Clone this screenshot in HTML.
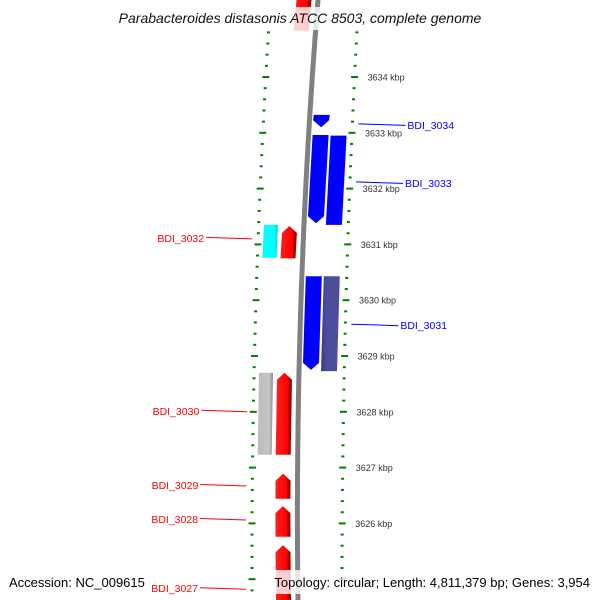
<!DOCTYPE html>
<html><head><meta charset="utf-8"><style>
body{margin:0;background:#fff}
svg{display:block;font-family:"Liberation Sans","DejaVu Sans",sans-serif}
</style></head><body>
<svg id="c" width="600" height="600" viewBox="0 0 600 600">
<defs>
<linearGradient id="gr" x1="0" x2="1"><stop offset="0" stop-color="#ff2020"/><stop offset="0.75" stop-color="#ff0000"/><stop offset="0.8" stop-color="#b00000"/><stop offset="1" stop-color="#990000"/></linearGradient>
<linearGradient id="gb" x1="0" x2="1"><stop offset="0" stop-color="#0000e0"/><stop offset="0.2" stop-color="#0000ff"/><stop offset="1" stop-color="#0000ff"/></linearGradient>
<linearGradient id="gc" x1="0" x2="1"><stop offset="0" stop-color="#00ffff"/><stop offset="0.8" stop-color="#00ffff"/><stop offset="1" stop-color="#00c8c8"/></linearGradient>
<linearGradient id="gg" x1="0" x2="1"><stop offset="0" stop-color="#bdbdbd"/><stop offset="0.75" stop-color="#c4c4c4"/><stop offset="1" stop-color="#8a8a8a"/></linearGradient>
<linearGradient id="gp" x1="0" x2="1"><stop offset="0" stop-color="#3a3a88"/><stop offset="0.3" stop-color="#4d4d9e"/><stop offset="1" stop-color="#4d4d9e"/></linearGradient>
</defs>
</svg>
<script>
const geneNames=["top","BDI_3034","BDI_3033","BDI_3033b","BDI_3032c","BDI_3032","BDI_3031","BDI_3031b","BDI_3030g","BDI_3030","BDI_3029","BDI_3028","BDI_3027"];
const geneStart=[3635.6,3633.32,3632.96,3632.95,3631.35,3631.33,3630.43,3630.43,3628.70,3628.70,3626.89,3626.31,3625.61];
const geneEnd=[3634.84,3633.10,3631.38,3631.35,3630.76,3630.75,3628.75,3628.73,3627.23,3627.23,3626.44,3625.76,3624.40];
const geneLane=[-1,1,1,2,-2,-1,1,2,-2,-1,-1,-1,-1];
const geneStrand=[1,-1,-1,0,0,1,-1,0,0,1,1,1,1];
const geneFill=["url(#gr)","url(#gb)","url(#gb)","url(#gb)","url(#gc)","url(#gr)","url(#gb)","url(#gp)","url(#gg)","url(#gr)","url(#gr)","url(#gr)","url(#gr)"];
const kbpTicks=[3634,3633,3632,3631,3630,3629,3628,3627,3626];
const labelNames=["BDI_3034","BDI_3033","BDI_3031","BDI_3032","BDI_3030","BDI_3029","BDI_3028","BDI_3027"];
const labelKbp=[3633.16,3632.12,3629.57,3631.10,3628.00,3626.67,3626.06,3624.82];
const labelSide=[1,1,1,-1,-1,-1,-1,-1];
const labelColor=["#0000ff","#0000ff","#0000ff","#ff0000","#ff0000","#ff0000","#ff0000","#ff0000"];

const NS="http://www.w3.org/2000/svg";
const svg=document.getElementById('c');
const yK=k=>77+(3634-k)*55.8;
function q(p,y){const[[a,A],[b,B],[c,C]]=p;return A*(y-b)*(y-c)/((a-b)*(a-c))+B*(y-a)*(y-c)/((b-a)*(b-c))+C*(y-a)*(y-b)/((c-a)*(c-b));}
const backX=y=>q([[0,318],[300,301],[600,298]],y);
const rightX=y=>q([[30,357],[300,346],[590,342]],y);
const leftX=y=>q([[40,268],[300,256],[590,252]],y);
function mk(t,a,p){const e=document.createElementNS(NS,t);for(const k in a)e.setAttribute(k,a[k]);(p||svg).appendChild(e);return e;}

let d="";for(let y=-5;y<=605;y+=5)d+=(y<0?"M":"L")+backX(y).toFixed(1)+","+y;
const bb=mk('path',{d:d,stroke:"#808080","stroke-width":5,fill:"none"});



for(let i=-12;i<=60;i++){const k=3634-i*0.2;const y=yK(k);if(y<30||y>596)continue;const major=Math.abs(k-Math.round(k))<0.01;
 for(const f of [leftX,rightX]){const x=f(y);const w=major?7:3;
  const t=mk('rect',{x:x-w/2,y:y-1,width:w,height:2,fill:"#008000"});
  
  }}
kbpTicks.forEach(k=>{const y=yK(k);const t=mk('text',{x:rightX(y)+13,y:y+3.5,"font-size":9,fill:"#333"});t.textContent=k+" kbp";
 
 });

const laneOff={"-2":[-40,-26],"-1":[-22,-7],"1":[4,20],"2":[22,38]};
geneNames.forEach((n,i)=>{const y1=yK(geneStart[i]),y2=yK(geneEnd[i]);const [o1,o2]=laneOff[geneLane[i]];
 const L=y=>backX(y)+o1,R=y=>backX(y)+o2;let pts;const ah=7;
 if(geneStrand[i]===1){pts=[[L(y2),y2],[R(y2),y2],[R(y1),y1+ah],[(L(y1)+R(y1))/2,y1],[L(y1),y1+ah]];}
 else if(geneStrand[i]===-1){pts=[[L(y1),y1],[R(y1),y1],[R(y2),y2-ah],[(L(y2)+R(y2))/2,y2],[L(y2),y2-ah]];}
 else pts=[[L(y1),y1],[R(y1),y1],[R(y2),y2],[L(y2),y2]];
 const g=mk('polygon',{points:pts.map(p=>p[0].toFixed(1)+","+p[1].toFixed(1)).join(" "),fill:geneFill[i]});
 
 });

labelNames.forEach((n,i)=>{const y=yK(labelKbp[i]);const s=labelSide[i];
 const x0=s>0?rightX(y)+6:leftX(y)-6, x1=s>0?x0+47:x0-46;
 const l=mk('line',{x1:x0,y1:y,x2:x1,y2:y+(s>0?1.5:-1.5),stroke:labelColor[i],"stroke-width":1});
 
 
 const t=mk('text',{x:s>0?x1+2:x1-2,y:y+(s>0?5:3),"font-size":10.5,fill:labelColor[i],"text-anchor":s>0?"start":"end"});t.textContent=n;
 
 });

const tb=mk('rect',{x:100,y:7,width:400,height:23,fill:"#fff","fill-opacity":0.8});


const tt=mk('text',{x:300,y:23,"font-size":14,"font-style":"italic","text-anchor":"middle",fill:"#111"});tt.textContent="Parabacteroides distasonis ATCC 8503, complete genome";


const fb=mk('rect',{x:257,y:570,width:338,height:24,fill:"#fff","fill-opacity":0.8});


const a=mk('text',{x:9,y:587,"font-size":13,fill:"#000"});a.textContent="Accession: NC_009615";


const b=mk('text',{x:590,y:587,"font-size":13,fill:"#000","text-anchor":"end"});b.textContent="Topology: circular; Length: 4,811,379 bp; Genes: 3,954";


</script>
</body></html>
